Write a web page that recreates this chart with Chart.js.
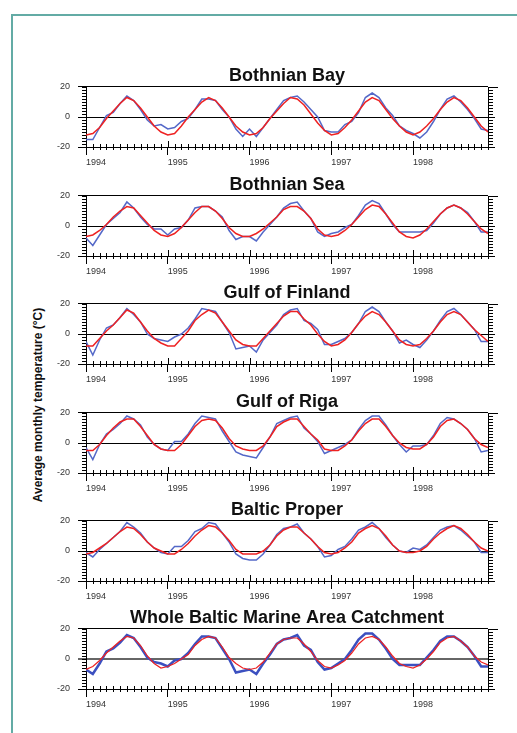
<!DOCTYPE html>
<html><head><meta charset="utf-8">
<script src="https://cdn.jsdelivr.net/npm/chart.js@4/dist/chart.umd.min.js"></script>
<style>
html,body{margin:0;padding:0;background:#fff;overflow:hidden;}
#wrap{position:relative;width:517px;height:733px;overflow:hidden;background:#fff;}
#frame{position:absolute;left:11px;top:14px;width:530px;height:740px;border:2px solid #63aba5;box-sizing:border-box;}
#wrap canvas{position:absolute;left:0;}
#ylab{position:absolute;left:38px;top:405px;transform:translate(-50%,-50%) rotate(-90deg);font:bold 12px "Liberation Sans",Arial,sans-serif;white-space:nowrap;color:#111;}
</style></head>
<body><div id="wrap"><div id="frame"></div><div id="ylab">Average monthly temperature (°C)</div></div>
<script>
const years = ['1994','1995','1996','1997','1998'];
const titles = ['Bothnian Bay','Bothnian Sea','Gulf of Finland','Gulf of Riga','Baltic Proper','Whole Baltic Marine Area Catchment'];
const yTicks = [-20, 0, 20];

const bbObs   = [-15,-15,-7,1,3,9,14,11,5,-2,-6,-5, -8,-7,-3,-1,5,12,12,11,5,0,-8,-13, -8,-13,-7,-1,5,11,13,14,10,5,0,-9, -10,-10,-5,-3,3,13,16,13,6,1,-6,-9, -11,-14,-10,-3,5,12,14,10,5,-1,-8,-9];
const bbModel = [-12,-11,-7,-1,4,9,13,11,6,0,-6,-10, -12,-11,-6,0,5,10,13,11,6,0,-6,-10, -12,-11,-7,-1,4,9,13,12,8,2,-4,-9, -12,-11,-7,-2,4,10,13,11,5,-1,-6,-10, -12,-10,-6,-1,5,10,13,11,6,0,-6,-10];

const bsObs   = [-8,-13,-6,1,5,9,16,12,6,1,-2,-2, -6,-2,-1,4,12,13,13,10,6,-3,-9,-7, -7,-10,-4,1,6,12,15,16,10,5,-4,-7, -5,-4,-1,1,7,14,17,15,8,1,-4,-4, -4,-4,-3,2,8,12,14,12,9,3,-4,-4];
const bsModel = [-7,-6,-3,1,6,10,13,12,7,2,-3,-6, -7,-5,-1,4,9,13,13,10,5,-1,-5,-7, -7,-5,-2,2,6,11,13,13,10,5,-2,-6, -7,-6,-3,1,6,11,14,13,8,2,-4,-7, -8,-6,-2,3,8,12,14,12,8,3,-2,-5];

const gfObs   = [-5,-14,-4,4,6,11,17,13,8,0,-3,-4, -5,-2,0,4,10,17,16,15,8,1,-10,-9, -8,-12,-4,1,6,13,16,17,9,7,3,-7, -7,-5,-3,1,7,15,18,15,8,2,-6,-4, -7,-9,-4,2,9,15,17,13,8,3,-5,-5];
const gfModel = [-8,-8,-3,2,6,11,16,14,8,2,-3,-6, -8,-8,-3,2,9,13,16,14,8,2,-4,-7, -8,-8,-3,2,7,12,15,15,10,6,0,-5, -8,-7,-4,1,7,12,15,13,8,2,-4,-7, -8,-7,-3,2,8,13,15,13,8,3,-1,-5];

const grObs   = [-3,-11,-1,6,9,13,18,16,12,4,-1,-4, -5,1,1,6,13,18,17,16,8,1,-6,-8, -9,-10,-3,4,13,15,17,18,10,6,1,-7, -5,-3,-1,2,9,15,18,18,12,5,-1,-6, -2,-2,-1,5,13,17,16,13,9,3,-6,-5];
const grModel = [-5,-5,-1,5,10,14,16,16,11,5,-1,-4, -5,-5,-1,5,11,15,16,15,10,3,-2,-4, -5,-5,-2,4,11,14,16,16,11,6,2,-4, -5,-5,-2,2,8,13,16,16,11,5,0,-3, -4,-4,-1,4,11,15,16,13,9,3,-1,-3];

const bpObs   = [-1,-4,1,5,9,13,19,16,12,6,2,-1, -2,3,3,7,13,15,19,18,12,6,-2,-5, -6,-6,-2,4,11,15,16,18,12,8,3,-4, -3,1,3,8,14,16,19,15,9,4,0,-1, 2,1,4,9,14,16,17,14,10,6,-1,-1];
const bpModel = [-2,-1,2,5,9,13,16,15,11,6,2,0, -2,-2,1,5,10,14,17,16,12,7,1,-2, -2,-2,0,4,10,14,16,16,12,8,3,-1, -2,-1,2,6,12,15,17,15,10,4,0,-1, -1,0,3,8,12,15,17,15,11,6,2,0];

const wbObs   = [-7,-10,-3,5,7,11,16,14,8,1,-2,-3, -5,-1,0,4,10,15,15,14,7,0,-9,-8, -7,-10,-3,3,10,13,14,16,9,6,-2,-7, -6,-3,0,6,13,17,17,13,7,0,-4,-4, -4,-4,1,6,12,15,15,12,8,2,-5,-5];
const wbModel = [-7,-5,-1,4,8,12,15,14,9,2,-3,-6, -5,-3,0,3,9,13,15,14,8,1,-3,-6, -7,-6,-2,4,10,13,14,14,10,5,-1,-5, -6,-4,-1,4,10,14,15,13,8,2,-3,-5, -6,-4,0,5,11,14,15,12,8,2,-2,-4];

const FONT = '"Liberation Sans", Arial, Helvetica, sans-serif';
const panels = [
  {title: titles[0], obs: bbObs, model: bbModel, top: 87},
  {title: titles[1], obs: bsObs, model: bsModel, top: 196},
  {title: titles[2], obs: gfObs, model: gfModel, top: 304},
  {title: titles[3], obs: grObs, model: grModel, top: 413},
  {title: titles[4], obs: bpObs, model: bpModel, top: 521},
  {title: titles[5], obs: wbObs, model: wbModel, top: 629, last: true}
];

const TOP_SPACE = 24, PLOT_H = 60, BOTTOM_SPACE = 26;

const minorTicks = {
  id: 'minorTicks',
  afterDraw(chart) {
    const {ctx, chartArea: a, scales: {x, y}} = chart;
    ctx.save();
    ctx.strokeStyle = '#000';
    ctx.lineWidth = 1;
    ctx.beginPath();
    for (let v = -20; v <= 20; v += 2) {
      const py = Math.round(y.getPixelForValue(v)) + 0.5;
      ctx.moveTo(a.left - 4, py); ctx.lineTo(a.left, py);
      ctx.moveTo(a.right, py); ctx.lineTo(a.right + (v % 20 === 0 ? 7 : 5), py);
    }
    for (let m = 0; m <= 59; m++) {
      const px = Math.round(x.getPixelForValue(m)) + 0.5;
      if (m % 12 === 0) { ctx.moveTo(px, a.bottom - 6); ctx.lineTo(px, a.bottom); }
      else { ctx.moveTo(px, a.bottom - 3); ctx.lineTo(px, a.bottom + 3); }
    }
    const rx = Math.round(a.right) + 0.5;
    ctx.moveTo(rx, a.top); ctx.lineTo(rx, a.bottom);
    const ty = Math.round(y.getPixelForValue(20)) + 0.5;
    ctx.moveTo(a.right, ty); ctx.lineTo(a.right + 10, ty);
    ctx.stroke();
    ctx.restore();
  }
};

const wrap = document.getElementById('wrap');
panels.forEach(p => {
  const c = document.createElement('canvas');
  c.width = 517; c.height = TOP_SPACE + PLOT_H + BOTTOM_SPACE;
  c.style.top = (p.top - TOP_SPACE) + 'px';
  c.style.width = '517px'; c.style.height = c.height + 'px';
  wrap.appendChild(c);
  const zeroCol = p.last ? '#666' : '#000';
  const zeroW = p.last ? 2 : 1;
  new Chart(c, {
    type: 'line',
    data: {
      datasets: [
        {data: p.model.map((v, k) => ({x: k, y: v})), borderColor: '#ee2222', borderWidth: p.last ? 1.2 : 1.5, pointRadius: 0, tension: 0, fill: false},
        {data: p.obs.map((v, k) => ({x: k, y: v})), borderColor: p.last ? '#3c50c0' : '#5468c8', borderWidth: p.last ? 2.5 : 1.5, pointRadius: 0, tension: 0, fill: false}
      ]
    },
    options: {
      responsive: false, animation: false, devicePixelRatio: 1,
      events: [],
      layout: {padding: {left: 0, right: 29, top: 0, bottom: 0}},
      plugins: {
        legend: {display: false}, tooltip: {enabled: false},
        title: {display: true, text: p.title, color: '#111', fullSize: false,
          font: {family: FONT, size: 18, weight: 'bold', lineHeight: 1.2},
          padding: {top: 2.4, bottom: 0}}
      },
      scales: {
        x: {
          type: 'linear', min: 0, max: 59,
          afterFit(s) { s.height = BOTTOM_SPACE; },
          afterBuildTicks(s) { s.ticks = years.map((_, i) => ({value: i * 12})); },
          ticks: {callback: v => years[v / 12], align: 'start', font: {family: FONT, size: 9}, color: '#333', padding: 2, maxRotation: 0, autoSkip: false},
          grid: {display: true, drawOnChartArea: false, tickLength: 8, color: '#000', lineWidth: 1},
          border: {display: true, color: '#000', width: 1}
        },
        y: {
          min: -20, max: 20,
          afterFit(s) { s.width = 86; },
          afterBuildTicks(s) { s.ticks = yTicks.map(v => ({value: v})); },
          ticks: {font: {family: FONT, size: 9}, color: '#333', padding: 8},
          grid: {color: ctx => (ctx.tick && ctx.tick.value === 0) ? zeroCol : '#000',
                 lineWidth: ctx => (ctx.tick && ctx.tick.value === 0) ? zeroW : 1, tickLength: 8},
          border: {display: true, color: '#000', width: 1}
        }
      }
    },
    plugins: [minorTicks]
  });
});
</script>
</body></html>
